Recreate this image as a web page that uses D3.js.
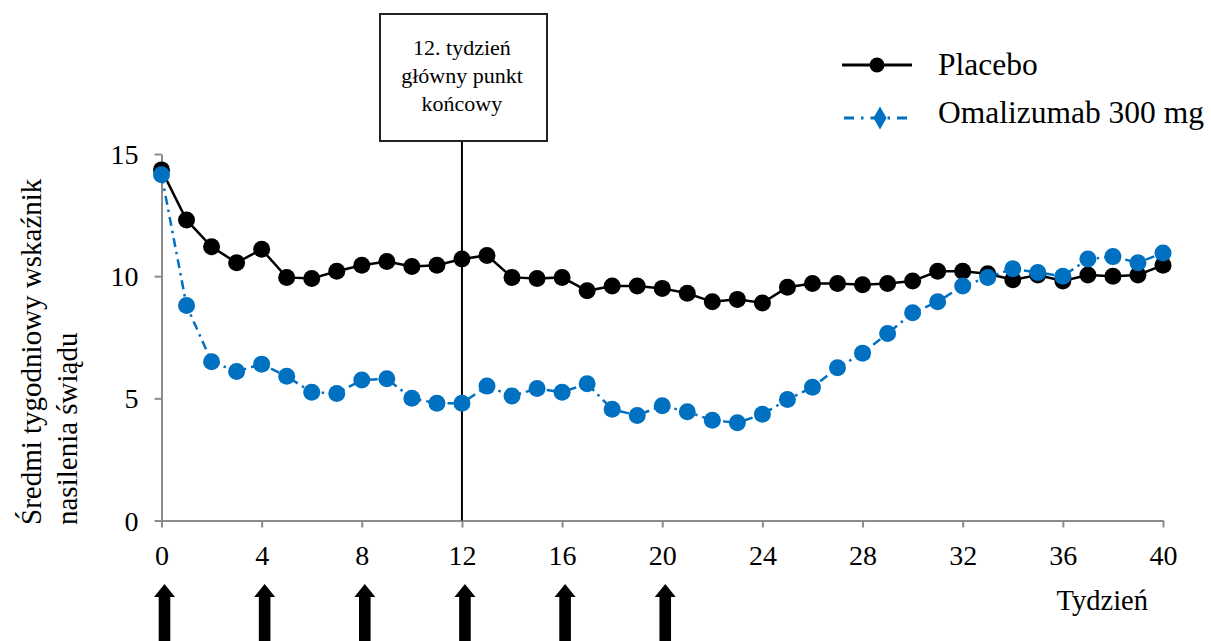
<!DOCTYPE html>
<html>
<head>
<meta charset="utf-8">
<script src="https://cdn.jsdelivr.net/npm/d3@7"></script>
<style>
  body { margin: 0; background: #fff; }
  svg, svg text { font-family: "Times New Roman", Times, "Liberation Serif", "DejaVu Serif", serif; }
</style>
</head>
<body>
<div id="chart"></div>
<script>
const weeks = [0,1,2,3,4,5,6,7,8,9,10,11,12,13,14,15,16,17,18,19,20,
  21,22,23,24,25,26,27,28,29,30,31,32,33,34,35,36,37,38,39,40];
const placebo = [14.35,12.3,11.2,10.55,11.1,9.95,9.9,10.2,10.45,10.6,10.4,10.45,10.7,10.85,
  9.95,9.9,9.95,9.4,9.6,9.6,9.5,9.3,8.95,9.05,8.9,9.55,9.7,9.7,9.65,9.7,9.8,
  10.2,10.2,10.1,9.85,10.05,9.8,10.05,10.0,10.05,10.45];
const omalizumab = [14.15,8.8,6.5,6.1,6.4,5.9,5.25,5.2,5.75,5.8,5.0,4.8,4.8,5.5,
  5.1,5.4,5.25,5.6,4.55,4.3,4.7,4.45,4.1,4.0,4.35,4.95,5.45,6.25,6.85,7.65,8.5,
  8.95,9.6,9.95,10.3,10.15,10.0,10.7,10.8,10.55,10.95];
const xTicks = [0,4,8,12,16,20,24,28,32,36,40];
const yTicks = [0,5,10,15];
const doseWeeks = [0,4,8,12,16,20];
const endpointWeek = 12;
const endpointLines = ["12. tydzień", "główny punkt", "końcowy"];
const seriesNames = ["Placebo", "Omalizumab 300 mg"];
const yTitle = ["Średmi tygodniowy wskaźnik", "nasilenia świądu"];
const xTitle = "Tydzień";

const w = 1211, h = 641;
const blue = "#0070c0";
const serif = "'Times New Roman', Times, 'Liberation Serif', 'DejaVu Serif', serif";

const svg = d3.select("#chart").append("svg")
  .attr("width", w).attr("height", h)
  .attr("font-family", serif);

const x = d3.scaleLinear([0, 40], [161.5, 1163]);
const y = d3.scaleLinear([0, 15], [520.5, 154]);

// axes
const gx = svg.append("g")
  .attr("transform", `translate(0,${y(0)})`)
  .call(d3.axisBottom(x).tickValues(xTicks).tickSize(7).tickSizeOuter(0).tickPadding(18));
const gy = svg.append("g")
  .attr("transform", `translate(${x(0)},0)`)
  .call(d3.axisLeft(y).tickValues(yTicks).tickSize(7).tickSizeOuter(0).tickPadding(16));

[gx, gy].forEach(g => {
  g.attr("font-family", serif).attr("font-size", 28);
  g.select(".domain").attr("stroke", "#8c8c8c").attr("stroke-width", 2);
  g.selectAll(".tick line").attr("stroke", "#8c8c8c").attr("stroke-width", 2);
  g.selectAll(".tick text").attr("fill", "#000");
});
gy.selectAll(".tick text").attr("dy", "0.34em");
gx.selectAll(".tick text").attr("dy", "0.71em");

// endpoint marker line + box
svg.append("line")
  .attr("x1", x(endpointWeek)).attr("x2", x(endpointWeek))
  .attr("y1", 141).attr("y2", y(0))
  .attr("stroke", "#000").attr("stroke-width", 2);
svg.append("rect")
  .attr("x", 380).attr("y", 14).attr("width", 167).attr("height", 127)
  .attr("fill", "#fff").attr("stroke", "#222").attr("stroke-width", 2);
svg.append("g").selectAll("text").data(endpointLines).join("text")
  .attr("x", x(endpointWeek)).attr("y", (d, i) => 55 + i * 28)
  .attr("text-anchor", "middle").attr("font-size", 22).text(d => d);

// series
const line = d3.line().x((d, i) => x(weeks[i])).y(d => y(d));

svg.append("path").datum(placebo)
  .attr("d", line).attr("fill", "none")
  .attr("stroke", "#000").attr("stroke-width", 2.5);
svg.append("g").selectAll("circle").data(placebo).join("circle")
  .attr("cx", (d, i) => x(weeks[i])).attr("cy", d => y(d)).attr("r", 8.5)
  .attr("fill", "#000");

svg.append("path").datum(omalizumab)
  .attr("d", line).attr("fill", "none")
  .attr("stroke", blue).attr("stroke-width", 2.5)
  .attr("stroke-dasharray", "9,5,2.5,5");
svg.append("g").selectAll("circle").data(omalizumab).join("circle")
  .attr("cx", (d, i) => x(weeks[i])).attr("cy", d => y(d)).attr("r", 8.5)
  .attr("fill", blue);

// dose arrows
const arrow = d3.path();
doseWeeks.forEach(wk => {
  const cx = x(wk) + 3;
  arrow.moveTo(cx, 584);
  arrow.lineTo(cx + 10.5, 597);
  arrow.lineTo(cx + 5.8, 597);
  arrow.lineTo(cx + 5.8, 645);
  arrow.lineTo(cx - 5.8, 645);
  arrow.lineTo(cx - 5.8, 597);
  arrow.lineTo(cx - 10.5, 597);
  arrow.closePath();
});
svg.append("path").attr("d", arrow.toString()).attr("fill", "#000");

// axis titles
svg.append("text").attr("x", 1148).attr("y", 610)
  .attr("text-anchor", "end").attr("font-size", 28.5).text(xTitle);
svg.append("g").attr("transform", "translate(0,525) rotate(-90)")
  .selectAll("text").data(yTitle).join("text")
  .attr("x", 0).attr("y", (d, i) => 41 + i * 36)
  .attr("font-size", 29).text(d => d);

// legend
const legend = svg.append("g");
legend.append("line").attr("x1", 842).attr("x2", 912).attr("y1", 65).attr("y2", 65)
  .attr("stroke", "#000").attr("stroke-width", 3);
legend.append("circle").attr("cx", 877).attr("cy", 65).attr("r", 7.5).attr("fill", "#000");
legend.append("line").attr("x1", 844).attr("x2", 912).attr("y1", 118).attr("y2", 118)
  .attr("stroke", blue).attr("stroke-width", 3).attr("stroke-dasharray", "10,7,2.5,7");
legend.append("path").attr("d", d3.symbol(d3.symbolDiamond, 150)())
  .attr("transform", "translate(880,118)").attr("fill", blue);
legend.selectAll("text").data(seriesNames).join("text")
  .attr("x", 938).attr("y", (d, i) => 75 + i * 48)
  .attr("font-size", 31.5).text(d => d);
</script>
</body>
</html>
